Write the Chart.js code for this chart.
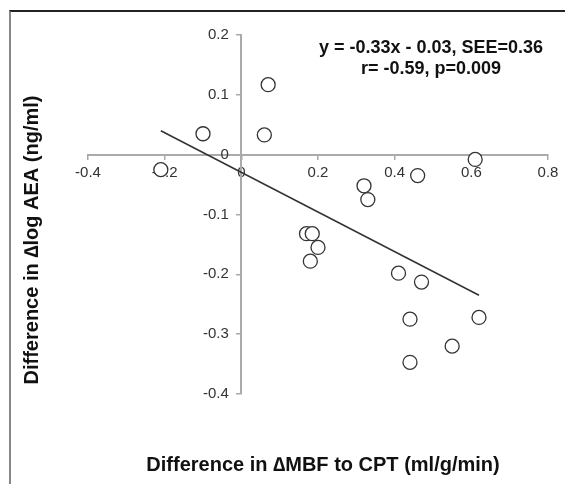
<!DOCTYPE html>
<html>
<head>
<meta charset="utf-8">
<script src="https://cdn.jsdelivr.net/npm/chart.js@4/dist/chart.umd.min.js"></script>
<style>
  body { margin: 0; background: #fff; }
  #wrap { position: relative; width: 565px; height: 484px; }
  #marco {
    position: absolute; left: 9px; top: 10px; right: 0; bottom: 0;
    border-top: 2px solid #222; border-left: 2px solid #888;
  }
  #miGrafica { position: absolute; left: 0; top: 0; }
</style>
</head>
<body>
<div id="wrap">
  <div id="marco"></div>
  <canvas id="miGrafica" width="565" height="484"></canvas>
</div>
<script>
// datos
const difMBF = [-0.21, -0.10, 0.07, 0.06, 0.61, 0.46, 0.32, 0.33, 0.17, 0.185, 0.20, 0.18, 0.41, 0.47, 0.44, 0.62, 0.55, 0.44];
const difAEA = [-0.025, 0.035, 0.117, 0.033, -0.008, -0.035, -0.052, -0.075, -0.132, -0.132, -0.155, -0.178, -0.198, -0.213, -0.275, -0.272, -0.320, -0.347];

// recta de regresion (extremos)
const rectaX = [-0.21, 0.62];
const rectaY = [0.04, -0.235];

const tituloX = "Difference in \u2206MBF to CPT (ml/g/min)";
const tituloY = "Difference in \u2206log AEA (ng/ml)";
const ecuacion = ["y = -0.33x - 0.03, SEE=0.36", "r= -0.59, p=0.009"];

function etiqueta(v) {
    return String(Math.round(v * 10) / 10);
}

const textos = {
    id: "textos",
    afterDraw(chart) {
        const ctx = chart.ctx;
        ctx.save();
        ctx.fillStyle = "#111";
        ctx.textAlign = "center";
        ctx.textBaseline = "middle";
        ctx.font = "bold 20px 'Liberation Sans', Arial, sans-serif";
        ctx.fillText(tituloX, 323, 465);
        ctx.save();
        ctx.translate(32, 240);
        ctx.rotate(-Math.PI / 2);
        ctx.fillText(tituloY, 0, 0);
        ctx.restore();
        ctx.font = "bold 18px 'Liberation Sans', Arial, sans-serif";
        ctx.fillText(ecuacion[0], 431, 48);
        ctx.fillText(ecuacion[1], 431, 69);
        ctx.restore();
    }
};

function crearGrafica() {
    const ctx = document.getElementById("miGrafica").getContext("2d");
    new Chart(ctx, {
        data: {
            datasets: [{
                type: "scatter",
                data: difMBF.map((x, i) => ({ x: x, y: difAEA[i] })),
                pointRadius: 7,
                pointHoverRadius: 7,
                borderColor: "#333",
                backgroundColor: "#fff",
                borderWidth: 1.3
            }, {
                type: "line",
                data: rectaX.map((x, i) => ({ x: x, y: rectaY[i] })),
                borderColor: "#333",
                borderWidth: 1.5,
                pointRadius: 0,
                fill: false
            }]
        },
        options: {
            responsive: false,
            animation: false,
            layout: { padding: { left: 88, right: 17, top: 35, bottom: 90 } },
            plugins: {
                legend: { display: false },
                tooltip: { enabled: false }
            },
            scales: {
                x: {
                    type: "linear",
                    position: { y: 0 },
                    z: 1,
                    min: -0.4,
                    max: 0.8,
                    ticks: {
                        stepSize: 0.2,
                        padding: 5,
                        color: "#333",
                        callback: v => etiqueta(v),
                        font: { family: "'Liberation Sans', Arial, sans-serif", size: 15 }
                    },
                    grid: { drawOnChartArea: false, tickLength: 4, color: "#aaa", lineWidth: 1.5 },
                    border: { color: "#aaa", width: 2 }
                },
                y: {
                    type: "linear",
                    position: { x: 0 },
                    min: -0.4,
                    max: 0.2,
                    ticks: {
                        stepSize: 0.1,
                        color: "#333",
                        // espacios para separar la etiqueta del eje
                        callback: v => etiqueta(v) + "   ",
                        font: { family: "'Liberation Sans', Arial, sans-serif", size: 15 }
                    },
                    grid: { drawOnChartArea: false, tickLength: 4, color: "#aaa", lineWidth: 1.5 },
                    border: { color: "#aaa", width: 2 }
                }
            }
        },
        plugins: [textos]
    });
}

document.addEventListener("DOMContentLoaded", () => {
    crearGrafica();
});
</script>
</body>
</html>
